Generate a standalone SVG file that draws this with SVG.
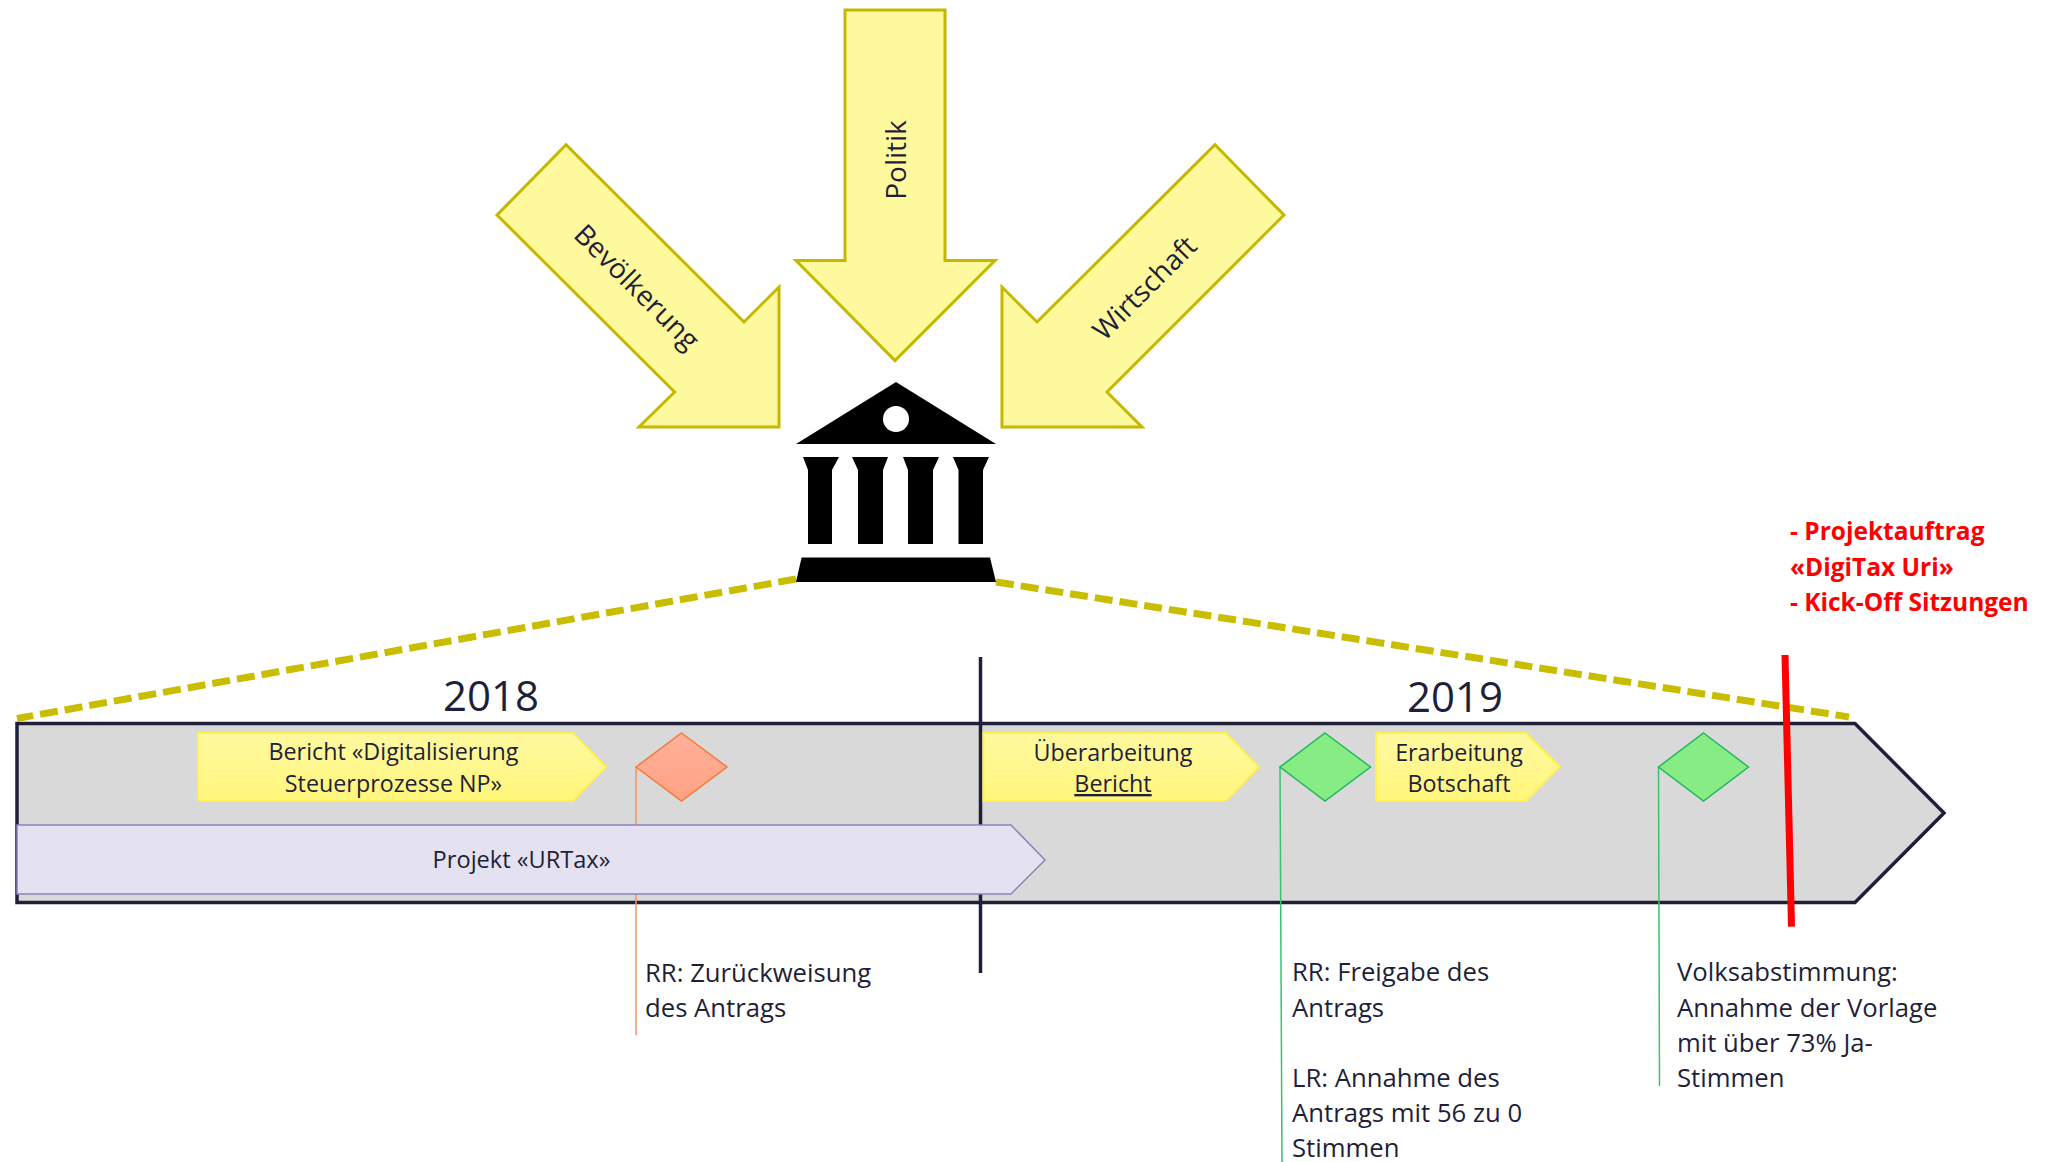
<svg xmlns="http://www.w3.org/2000/svg" width="2056" height="1162" viewBox="0 0 2056 1162">
<style>
text{font-family:"Open Sans","Noto Sans","Liberation Sans",sans-serif;fill:#1f1f38;font-size:23.300px}
.c{text-anchor:middle}
.big{font-size:42px}
.lb{font-size:25.700px}
.rot{font-size:28px}
.red{fill:#f00;font-weight:700;font-size:24.500px}
.ar{fill:#fff99d;stroke:#c4b800;stroke-width:3}
.y{fill:url(#gy);stroke:#fff04d;stroke-width:2}
.g{fill:#88ec84;stroke:#1fb860;stroke-width:1.5}
.gl{stroke:#3cc070;stroke-width:1.5;fill:none}
</style>
<defs>
<linearGradient id="gy" x1="0" y1="0" x2="0" y2="1"><stop offset="0" stop-color="#fff9a0"/><stop offset="1" stop-color="#fff67c"/></linearGradient>
<linearGradient id="gr" x1="0" y1="0" x2="0" y2="1"><stop offset="0" stop-color="#ffb09a"/><stop offset="1" stop-color="#ffa283"/></linearGradient>
</defs>
<g id="timeline"><path d="M17 723.500H1855L1944 813L1855 902.500H17Z" fill="#d9d9d9" stroke="#1f1f38" stroke-width="3.500"/></g>
<g id="connectors" fill="none">
<path d="M796 579L17 718.500" stroke="#c9bd00" stroke-width="7" stroke-dasharray="18 7"/>
<path d="M996 582L1849 717" stroke="#c9bd00" stroke-width="7" stroke-dasharray="18 7"/>
<path d="M980.500 657V973" stroke="#1f1f38" stroke-width="3.500"/>
<path d="M636 767V1035" stroke="#f4935f" stroke-width="1.500"/>
<path d="M1280 767L1282 1162" class="gl"/>
<path d="M1658.500 767L1659.500 1086" class="gl"/>
</g>
<g id="arrow-politik"><path class="ar" d="M845 10H945V260.500H995L895 360.500L796 260.500H845Z"/><text class="c rot" transform="translate(906 160) rotate(-90)">Politik</text></g>
<g id="arrow-bevoelkerung"><path class="ar" d="M566 144.700L497 215L674.600 392L639 427H779V287L744 322Z"/><text class="c rot" transform="translate(630 294) rotate(45)">Bevölkerung</text></g>
<g id="arrow-wirtschaft"><path class="ar" d="M1215 144.700L1284 215L1107 392L1142 427H1002V287L1037 322Z"/><text class="c rot" transform="translate(1151.500 295) rotate(-45)">Wirtschaft</text></g>
<g id="building">
<path d="M896 382L996 444H796Z"/>
<circle cx="896" cy="419" r="13" fill="#fff"/>
<path d="M803 457H839L832 470V544H808V470Z"/>
<path d="M852 457H888L883 470V544H858V470Z"/>
<path d="M903 457H939L933 470V544H908V470Z"/>
<path d="M953 457H989L983 470V544H958.500V470Z"/>
<path d="M801.600 557.600H990L996 582H796Z"/>
</g>
<g id="bericht"><path class="y" d="M198 733H573L606 767L573 801H198Z"/><text class="c" x="393.500" y="760">Bericht «Digitalisierung</text><text class="c" x="393.500" y="792">Steuerprozesse NP»</text></g>
<g id="diamond-red"><path d="M681.500 733L727 767L681.500 801L636 767Z" fill="url(#gr)" stroke="#f47a3a" stroke-width="1.500"/></g>
<g id="urtax"><path d="M17 825H1011L1045 860L1011 894H17Z" fill="#e4e1f0" stroke="#8c83b8" stroke-width="1.500"/><text class="c" x="521.500" y="868" style="font-size:23.600px">Projekt «URTax»</text></g>
<g id="ueberarbeitung"><path class="y" d="M983.500 733H1226L1259 767L1226 801H983.500Z"/><text class="c" x="1113" y="761">Überarbeitung</text><text class="c" x="1113" y="792" text-decoration="underline">Bericht</text></g>
<g id="diamond-green-1"><path class="g" d="M1325 733L1370.500 767L1325 801L1280 767Z"/></g>
<g id="erarbeitung"><path class="y" d="M1376 733H1526L1560 767L1526 801H1376Z"/><text class="c" x="1459" y="761">Erarbeitung</text><text class="c" x="1459" y="792">Botschaft</text></g>
<g id="diamond-green-2"><path class="g" d="M1703.500 733L1748.500 767L1703.500 801L1658.500 767Z"/></g>
<g id="red-marker"><path d="M1785 655L1791.500 926.600" stroke="#f00" stroke-width="7" fill="none"/></g>
<g id="year-2018"><text class="c big" x="491" y="711">2018</text></g>
<g id="year-2019"><text class="c big" x="1455" y="712">2019</text></g>
<g id="label-rr1"><text class="lb" x="645" y="981.500">RR: Zurückweisung</text><text class="lb" x="645" y="1017">des Antrags</text></g>
<g id="label-rr2"><text class="lb" x="1292" y="980.500">RR: Freigabe des</text><text class="lb" x="1292" y="1016.500">Antrags</text><text class="lb" x="1292" y="1087">LR: Annahme des</text><text class="lb" x="1292" y="1122">Antrags mit 56 zu 0</text><text class="lb" x="1292" y="1157">Stimmen</text></g>
<g id="label-volk"><text class="lb" x="1677" y="980.500">Volksabstimmung:</text><text class="lb" x="1677" y="1016.500">Annahme der Vorlage</text><text class="lb" x="1677" y="1051.500">mit über 73% Ja-</text><text class="lb" x="1677" y="1087">Stimmen</text></g>
<g id="label-red"><text class="red" x="1790" y="540">- Projektauftrag</text><text class="red" x="1790" y="575.500">«DigiTax Uri»</text><text class="red" x="1790" y="610.500">- Kick-Off Sitzungen</text></g>
</svg>
